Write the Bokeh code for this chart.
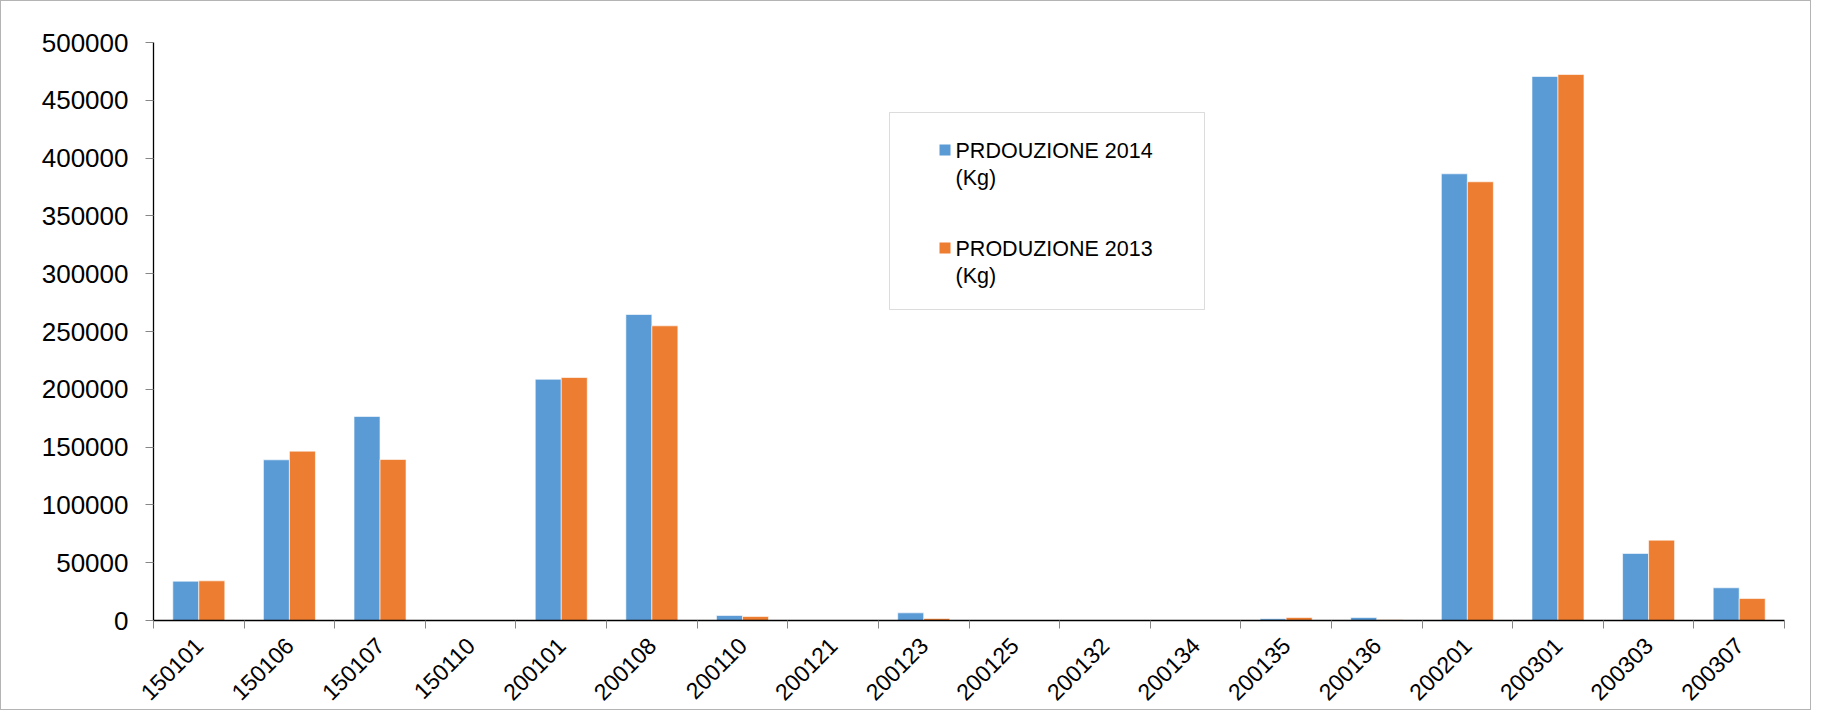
import math
from bokeh.plotting import figure
from bokeh.models import (ColumnDataSource, Range1d, FixedTicker, BasicTickFormatter,
                          BoxAnnotation, Label)
from bokeh.transform import dodge
from bokeh.embed import file_html
from bokeh.resources import INLINE

# ---------------- data ----------------
categories = ["150101", "150106", "150107", "150110", "200101", "200108", "200110",
              "200121", "200123", "200125", "200132", "200134", "200135", "200136",
              "200201", "200301", "200303", "200307"]
prod_2014 = [34000, 139000, 176500, 0, 208700, 264700, 4300, 0, 6600, 300, 0, 0,
             1500, 2600, 386400, 470600, 58000, 28300]
prod_2013 = [34300, 146500, 139300, 0, 210200, 254900, 3500, 0, 1700, 0, 0, 300,
             2600, 600, 379500, 472300, 69500, 19000]
series_labels = ["PRDOUZIONE 2014", "PRODUZIONE 2013"]
unit_label = "(Kg)"
y_ticks = [0, 50000, 100000, 150000, 200000, 250000, 300000, 350000, 400000, 450000, 500000]

BLUE = "#5B9BD5"
ORANGE = "#ED7D31"
FONT = "Liberation Sans"

n = len(categories)
centers = [i + 0.5 for i in range(n)]
src = ColumnDataSource(dict(x=centers, cat=categories, v14=prod_2014, v13=prod_2013))

p = figure(width=1811, height=710, output_backend="svg", toolbar_location=None,
           x_range=Range1d(0, n), y_range=Range1d(0, 500000),
           min_border_left=152, min_border_top=41, min_border_right=28, min_border_bottom=91)
p.styles = {"border": "1px solid #b4b4b4"}
p.outline_line_color = None
p.xgrid.visible = False
p.ygrid.visible = False
p.background_fill_color = "white"
p.border_fill_color = "white"

bw = 0.287
p.vbar(x=dodge("x", -bw / 2, range=p.x_range), top="v14", width=bw, source=src,
       fill_color=BLUE, line_color="white", line_alpha=0.6, line_width=1)
p.vbar(x=dodge("x", bw / 2, range=p.x_range), top="v13", width=bw, source=src,
       fill_color=ORANGE, line_color="white", line_alpha=0.6, line_width=1)

# x axis
xa = p.xaxis[0]
xa.ticker = FixedTicker(ticks=centers, minor_ticks=list(range(n + 1)))
xa.major_label_overrides = {c: lab for c, lab in zip(centers, categories)}
xa.major_label_orientation = math.pi / 4
xa.major_tick_out = 0
xa.major_tick_in = 0
xa.minor_tick_out = 8
xa.minor_tick_in = 0
xa.minor_tick_line_color = "#868686"
xa.axis_line_color = "black"
xa.axis_line_width = 1.3
xa.major_label_text_font = FONT
xa.major_label_text_font_size = "23px"
xa.major_label_text_color = "black"
xa.major_label_standoff = 13

# y axis
ya = p.yaxis[0]
ya.ticker = FixedTicker(ticks=y_ticks)
ya.formatter = BasicTickFormatter(use_scientific=False)
ya.major_tick_out = 8
ya.major_tick_in = 0
ya.major_tick_line_color = "#868686"
ya.minor_tick_line_color = None
ya.axis_line_color = "black"
ya.axis_line_width = 1.3
ya.major_label_text_font = FONT
ya.major_label_text_font_size = "26px"
ya.major_label_text_color = "black"
ya.major_label_standoff = 17

# ---------------- legend (drawn by hand, in data units) ----------------
def px_to_x(px):
    return (px - 153) / 90.61

def px_to_y(py):
    return (620 - py) * 500000 / 578

p.add_layout(BoxAnnotation(left=px_to_x(889), right=px_to_x(1204),
                           top=px_to_y(112), bottom=px_to_y(309),
                           fill_color="white", fill_alpha=1,
                           line_color="#8a8a8a", line_width=1, level="overlay"))
for k, (lab, col) in enumerate(zip(series_labels, [BLUE, ORANGE])):
    off = k * 98
    p.add_layout(BoxAnnotation(left=px_to_x(939), right=px_to_x(950),
                               top=px_to_y(144 + off), bottom=px_to_y(155 + off),
                               fill_color=col, fill_alpha=1, line_color=None, level="overlay"))
    p.add_layout(Label(x=px_to_x(955), y=px_to_y(150.5 + off), text=lab,
                       text_font=FONT, text_font_size="21.5px", text_color="black",
                       text_baseline="alphabetic", level="overlay"))
    p.add_layout(Label(x=px_to_x(955), y=px_to_y(177.5 + off), text=unit_label,
                       text_font=FONT, text_font_size="21.5px", text_color="black",
                       text_baseline="alphabetic", level="overlay"))

open("out.html", "w").write(file_html(p, INLINE))
